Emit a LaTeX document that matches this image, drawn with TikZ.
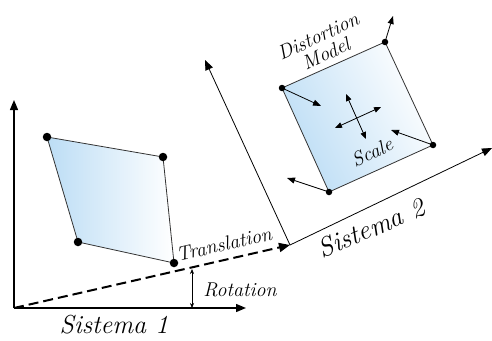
\documentclass[tikz,border=0pt]{standalone}
\usetikzlibrary{arrows.meta}
\definecolor{qblue}{RGB}{188,221,245}
\tikzset{
  bigtip/.style={-{Triangle[length=10pt,width=8pt]}},
  axisone/.style={line width=1.4pt, bigtip},
  axistwo/.style={line width=0.8pt, bigtip},
  quadedge/.style={draw=black!80, line width=0.8pt},
  vtx/.style={circle, fill=black, inner sep=0pt, minimum size=#1},
  distarrow/.style={line width=0.8pt, -{Triangle[length=8pt,width=6pt]}},
  crossarrow/.style={line width=0.8pt, {Triangle[length=7pt,width=5.5pt]}-{Triangle[length=7pt,width=5.5pt]}},
  lbl/.style={font=\itshape\fontsize{#1}{#1}\selectfont, inner sep=0pt},
}
\begin{document}
\begin{tikzpicture}[x=1pt,y=-1pt]
\useasboundingbox (0,0) rectangle (492,340);
% coordinates
\coordinate (O1) at (14,308);
\coordinate (Y1) at (14,100);
\coordinate (X1) at (246,308);
\coordinate (O2) at (290,245);
\coordinate (Y2) at (205,60);
\coordinate (X2) at (492,148);
% quad 1
\coordinate (A) at (47,137);
\coordinate (B) at (163,157);
\coordinate (C) at (174,263);
\coordinate (D) at (78,242);
\path[quadedge, left color=qblue, right color=white] (A) -- (B) -- (C) -- (D) -- cycle;
\foreach \p in {A,B,C,D} \node[vtx=8.5pt] at (\p) {};
% quad 2
\coordinate (P) at (282,88);
\coordinate (Q) at (385,42);
\coordinate (R) at (433,145);
\coordinate (S) at (329,192);
\path[quadedge, shading=axis, top color=qblue, bottom color=white, shading angle=116] (P) -- (Q) -- (R) -- (S) -- cycle;
\foreach \p in {P,Q,R,S} \node[vtx=6.5pt] at (\p) {};
% axes
\draw[axisone] (O1) -- (Y1);
\draw[axisone] (O1) -- (X1);
\draw[axistwo] (O2) -- (Y2);
\draw[axistwo] (O2) -- (X2);
% translation dashed
\draw[line width=2pt, dash pattern=on 10pt off 5pt, -{Triangle[length=11pt,width=9pt]}] (O1) -- (O2);
% rotation
\coordinate (RT) at (192,269);
\coordinate (RB) at (192,308);
\draw[line width=0.6pt, {Stealth[length=5pt,width=4pt]}-{Stealth[length=5pt,width=4pt]}] (RT) -- (RB);
% distortion arrows
\coordinate (Pa) at (321,106);
\coordinate (Qa) at (393,16);
\coordinate (Ra) at (391,130);
\coordinate (Sa) at (287,178);
\draw[distarrow] (P) -- (Pa);
\draw[distarrow] (Q) -- (Qa);
\draw[distarrow] (R) -- (Ra);
\draw[distarrow] (S) -- (Sa);
% scale cross
\coordinate (H1) at (335,128);
\coordinate (H2) at (381,107);
\coordinate (V1) at (346,94);
\coordinate (V2) at (366,139);
\draw[crossarrow] (H1) -- (H2);
\draw[crossarrow] (V1) -- (V2);
% labels
\node[lbl=26] (s1) at (114,325) {Sistema 1};
\node[lbl=27, rotate=23] (s2) at (371,228) {Sistema 2};
\node[lbl=20, rotate=13] (tr) at (224,244) {Translation};
\node[lbl=20] (ro) at (240,290) {Rotation};
\node[lbl=20, rotate=25, align=center] (di) at (322,45) {Distortion\\[-1pt]Model};
\node[lbl=20, rotate=25] (sc) at (372,152) {Scale};
\end{tikzpicture}
\end{document}
